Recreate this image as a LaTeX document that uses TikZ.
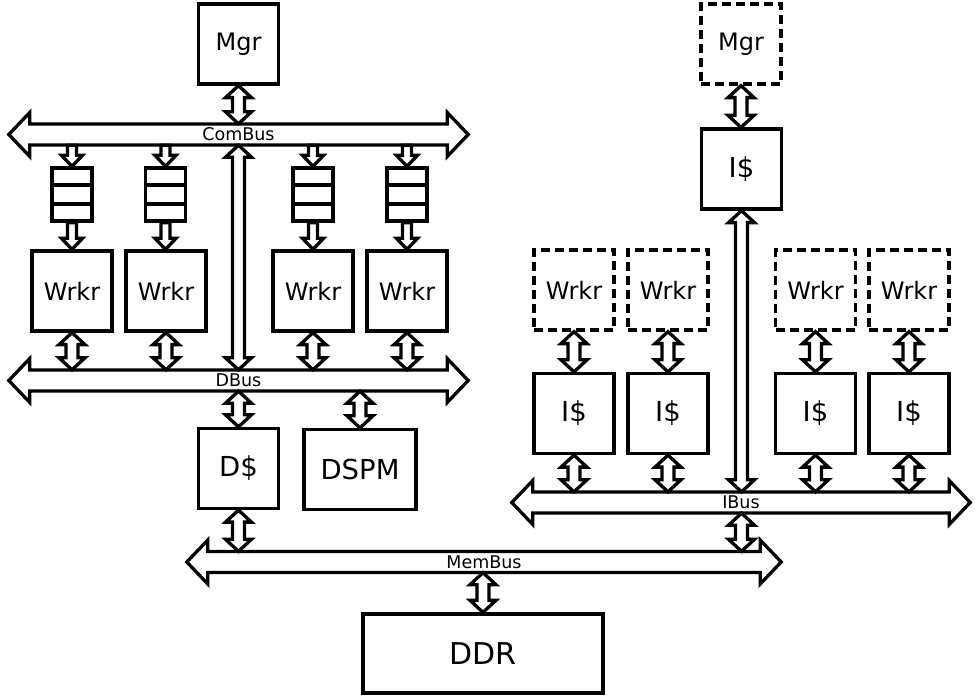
\documentclass[tikz,border=0pt]{standalone}
\usepackage{fontspec}
\setmainfont{DejaVu Sans}
\usetikzlibrary{calc}
\tikzset{
  lw/.style={line width=3.3pt},
  box/.style={draw, line width=3.3pt, minimum width=80pt, minimum height=80pt, inner sep=0pt, font=\fontsize{24}{28}\selectfont},
  dashbox/.style={box, dash pattern=on 9pt off 5pt},
  cachetext/.style={font=\fontsize{27.5}{32}\selectfont},
  fifo/.style={draw, line width=3.3pt, minimum width=40pt, minimum height=53pt, inner sep=0pt},
  busbar/.style={minimum height=21pt, inner sep=0pt},
  buslabel/.style={inner sep=0pt, font=\fontsize{17.5}{20}\selectfont},
  fat/.style={draw, fill=white, line width=3.3pt},
}
\newcommand\dblarr[2]{\draw[fat] let \p1=(#1), \p2=(#2) in
  (\x1,\y1) -- (\x1+13pt,\y1-12pt) -- (\x1+6pt,\y1-12pt) -- (\x1+6pt,\y2+12pt) -- (\x1+13pt,\y2+12pt) -- (\x1,\y2)
  -- (\x1-13pt,\y2+12pt) -- (\x1-6pt,\y2+12pt) -- (\x1-6pt,\y1-12pt) -- (\x1-13pt,\y1-12pt) -- cycle;}
\newcommand\sglarr[2]{\draw[fat] let \p1=(#1), \p2=(#2) in
  (\x1-4.5pt,\y1) -- (\x1+4.5pt,\y1) -- (\x1+4.5pt,\y2+11pt) -- (\x1+10.5pt,\y2+11pt) -- (\x1,\y2)
  -- (\x1-10.5pt,\y2+11pt) -- (\x1-4.5pt,\y2+11pt) -- cycle;}
\newcommand\busarr[1]{\draw[fat] let \p1=(#1.west), \p2=(#1.east) in
  (\x1,\y1) -- (\x1+21pt,\y1+22pt) -- (\x1+21pt,\y1+10.5pt) -- (\x2-21pt,\y1+10.5pt) -- (\x2-21pt,\y1+22pt) -- (\x2,\y1)
  -- (\x2-21pt,\y1-22pt) -- (\x2-21pt,\y1-10.5pt) -- (\x1+21pt,\y1-10.5pt) -- (\x1+21pt,\y1-22pt) -- cycle;}
\begin{document}
\begin{tikzpicture}[x=1pt, y=-1pt]
\useasboundingbox (0,0) rectangle (978,700);

% buses (bar areas)
\node[busbar, minimum width=459pt] (combus) at (238.5,134.5) {};
\node[busbar, minimum width=459pt] (dbus) at (238.5,380.5) {};
\node[busbar, minimum width=458pt] (ibus) at (741,502.5) {};
\node[busbar, minimum width=594pt] (membus) at (484,562) {};
\busarr{combus}
\busarr{dbus}
\busarr{ibus}
\busarr{membus}

% left cluster
\node[box] (mgrL) at (238.5,44) {Mgr};
\node[box] (w1) at (72,291) {Wrkr};
\node[box] (w2) at (166,291) {Wrkr};
\node[box] (w3) at (313,291) {Wrkr};
\node[box] (w4) at (407,291) {Wrkr};
\node[fifo] (f1) at (72,194.5) {};
\node[fifo] (f2) at (165.5,194.5) {};
\node[fifo] (f3) at (313,194.5) {};
\node[fifo] (f4) at (407,194.5) {};
\foreach \f in {f1,f2,f3,f4}{
  \foreach \t in {1/3,2/3}{
    \draw[lw] ($(\f.north west)!\t!(\f.south west)$) -- ($(\f.north east)!\t!(\f.south east)$);
  }
}
\node[box, cachetext] (dc) at (238.5,468.5) {D\$};
\node[box, cachetext, minimum width=112pt] (dspm) at (360,469.5) {DSPM};
\node[box, minimum width=240pt, minimum height=79pt, font=\fontsize{30}{34}\selectfont] (ddr) at (483,653.5) {DDR};

% right cluster
\node[dashbox] (mgrR) at (741,44) {Mgr};
\node[box, cachetext] (ictop) at (741.5,169) {I\$};
\node[dashbox] (wr1) at (574,290) {Wrkr};
\node[dashbox] (wr2) at (668,290) {Wrkr};
\node[dashbox] (wr3) at (815.5,290) {Wrkr};
\node[dashbox] (wr4) at (909,290) {Wrkr};
\node[box, cachetext] (ic1) at (574,413.5) {I\$};
\node[box, cachetext] (ic2) at (668,413.5) {I\$};
\node[box, cachetext] (ic3) at (815.5,413.5) {I\$};
\node[box, cachetext] (ic4) at (909,413.5) {I\$};

% connectors left
\dblarr{mgrL.south}{combus.north -| mgrL.south}
\foreach \f/\w in {f1/w1,f2/w2,f3/w3,f4/w4}{
  \sglarr{combus.south -| \f.north}{\f.north}
  \sglarr{\f.south}{\w.north}
  \dblarr{\w.south}{dbus.north -| \w.south}
}
\dblarr{combus.south -| mgrL.south}{dbus.north -| mgrL.south}
\dblarr{dbus.south -| dc.north}{dc.north}
\dblarr{dbus.south -| dspm.north}{dspm.north}
\dblarr{dc.south}{membus.north -| dc.south}
\dblarr{membus.south -| ddr.north}{ddr.north}

% connectors right
\dblarr{mgrR.south}{ictop.north}
\dblarr{ictop.south}{ibus.north -| ictop.south}
\foreach \w/\c in {wr1/ic1,wr2/ic2,wr3/ic3,wr4/ic4}{
  \dblarr{\w.south}{\c.north}
  \dblarr{\c.south}{ibus.north -| \c.south}
}
\dblarr{ibus.south -| ictop.south}{membus.north -| ictop.south}

% bus labels
\node[buslabel] (combuslbl) at (combus) {ComBus};
\node[buslabel] (dbuslbl) at (dbus) {DBus};
\node[buslabel] (ibuslbl) at (ibus) {IBus};
\node[buslabel] (membuslbl) at (membus) {MemBus};
\end{tikzpicture}
\end{document}
